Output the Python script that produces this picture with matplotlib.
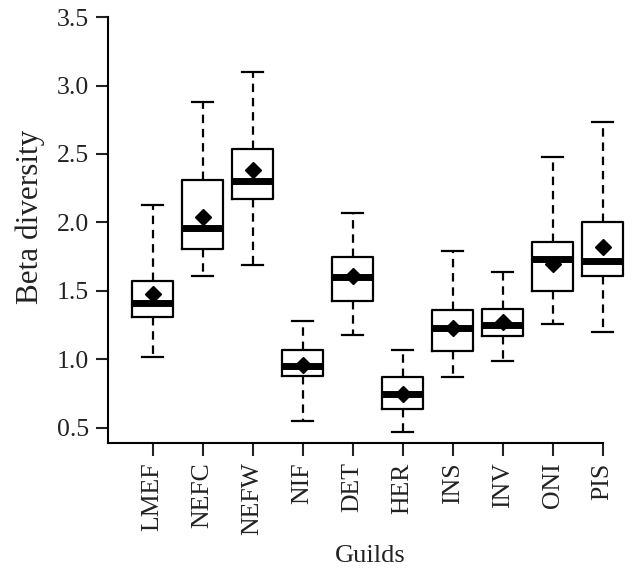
import matplotlib
matplotlib.use("Agg")
import matplotlib.pyplot as plt

# Guild beta diversity summary
guilds = ["LMEF", "NEFC", "NEFW", "NIF", "DET", "HER", "INS", "INV", "ONI", "PIS"]
whisker_lo = [1.02, 1.61, 1.69, 0.55, 1.18, 0.47, 0.87, 0.99, 1.26, 1.20]
q1 = [1.31, 1.81, 2.17, 0.88, 1.43, 0.64, 1.06, 1.17, 1.50, 1.61]
medians = [1.41, 1.96, 2.30, 0.95, 1.60, 0.75, 1.23, 1.25, 1.73, 1.72]
q3 = [1.57, 2.31, 2.54, 1.07, 1.75, 0.87, 1.36, 1.37, 1.86, 2.00]
whisker_hi = [2.13, 2.88, 3.10, 1.28, 2.07, 1.07, 1.79, 1.64, 2.48, 2.73]
means = [1.48, 2.04, 2.38, 0.96, 1.61, 0.75, 1.23, 1.27, 1.70, 1.82]

plt.rcParams['font.family'] = ['Liberation Serif', 'DejaVu Serif']

fig = plt.figure(figsize=(6.4, 5.69), dpi=100)
# x range 0.11..10.6 so the last box is not clipped; spine stops at 10
ax = fig.add_axes([0.169, 0.2214, 0.8195, 0.7487])

stats = []
for i, g in enumerate(guilds):
    stats.append({
        'label': g, 'whislo': whisker_lo[i], 'q1': q1[i], 'med': medians[i],
        'q3': q3[i], 'whishi': whisker_hi[i], 'mean': means[i], 'fliers': [],
    })

pos = list(range(1, len(guilds) + 1))
ax.bxp(stats, positions=pos, widths=0.83, showmeans=True, showfliers=False,
       patch_artist=False,
       boxprops=dict(color='black', linewidth=1.6),
       whiskerprops=dict(color='black', linewidth=1.6, linestyle=(0, (3.8, 2.6))),
       capprops=dict(color='black', linewidth=1.6),
       capwidths=0.42,
       medianprops=dict(color='black', linewidth=5, solid_capstyle='butt'),
       meanprops=dict(marker='D', markerfacecolor='black', markeredgecolor='black',
                      markersize=8))

ax.set_xlim(0.11, 10.6)
ax.set_ylim(0.39, 3.5)
ax.set_yticks([0.5, 1.0, 1.5, 2.0, 2.5, 3.0, 3.5])
ax.set_yticklabels(["0.5", "1.0", "1.5", "2.0", "2.5", "3.0", "3.5"])
ax.set_xticks(pos)
ax.set_xticklabels(guilds, rotation=90)

ax.spines['top'].set_visible(False)
ax.spines['right'].set_visible(False)
ax.spines['left'].set_linewidth(1.5)
ax.spines['bottom'].set_linewidth(1.5)
ax.spines['bottom'].set_bounds(0.11, 10)

ax.tick_params(axis='both', length=9, width=1.5, labelsize=18.5, pad=5, colors='#222222')
ax.set_ylabel("Beta diversity", fontsize=22.5, color='#222222')
ax.yaxis.set_label_coords(-0.121, 0.53)
ax.set_xlabel("Guilds", fontsize=19, color='#222222', labelpad=7)

fig.savefig("out.png", dpi=100)
